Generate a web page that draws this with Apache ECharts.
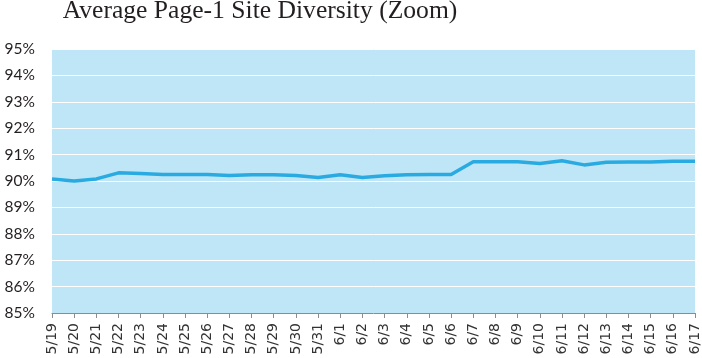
<!DOCTYPE html>
<html>
<head>
<meta charset="utf-8">
<script src="https://cdn.jsdelivr.net/npm/echarts@6/dist/echarts.min.js"></script>
<style>
html,body{margin:0;padding:0;background:#fff;}
#chart{width:702px;height:358px;}
</style>
</head>
<body>
<div id="chart"></div>
<script>
var titleText = 'Average Page-1 Site Diversity (Zoom)';
var categories = ['5/19','5/20','5/21','5/22','5/23','5/24','5/25','5/26','5/27','5/28','5/29','5/30','5/31','6/1','6/2','6/3','6/4','6/5','6/6','6/7','6/8','6/9','6/10','6/11','6/12','6/13','6/14','6/15','6/16','6/17'];
var diversity = [90.08,90.0,90.08,90.31,90.28,90.25,90.25,90.25,90.21,90.24,90.24,90.21,90.13,90.24,90.13,90.2,90.24,90.25,90.25,90.73,90.73,90.73,90.66,90.77,90.61,90.71,90.72,90.72,90.75,90.75];
var yMin = 85, yMax = 95, yStep = 1;

var chart = echarts.init(document.getElementById('chart'), null, {renderer:'canvas'});
chart.setOption({
  animation:false,
  backgroundColor:'#ffffff',
  title:{
    text:titleText,
    left:255, top:-7, textAlign:'center',
    textStyle:{fontFamily:'Liberation Serif', fontSize:25.6, fontWeight:'normal', color:'#231f20'}
  },
  grid:{left:52, right:7, top:49, bottom:45, containLabel:false, show:true, backgroundColor:'#bee6f6', borderWidth:0},
  xAxis:{
    type:'category', data:categories, boundaryGap:false,
    axisLine:{show:true, lineStyle:{color:'#8c8c8c', width:1}},
    axisTick:{show:true, alignWithLabel:true, length:5, lineStyle:{color:'#8c8c8c'}},
    axisLabel:{rotate:90, interval:0, margin:10, fontFamily:'DejaVu Sans', fontSize:14, color:'#333333'},
    splitLine:{show:false}
  },
  yAxis:{
    type:'value', min:yMin, max:yMax, interval:yStep,
    axisLine:{show:false}, axisTick:{show:false},
    axisLabel:{margin:17, fontFamily:'Lato', fontSize:15.5, color:'#231f20', formatter:function(v){return v+'%';}},
    splitLine:{show:true, lineStyle:{color:'#ffffff', width:1}}
  },
  series:[{
    type:'line', data:diversity, showSymbol:false, symbol:'none',
    lineStyle:{color:'#29abe2', width:3.5}, z:3
  }]
});
</script>
</body>
</html>
